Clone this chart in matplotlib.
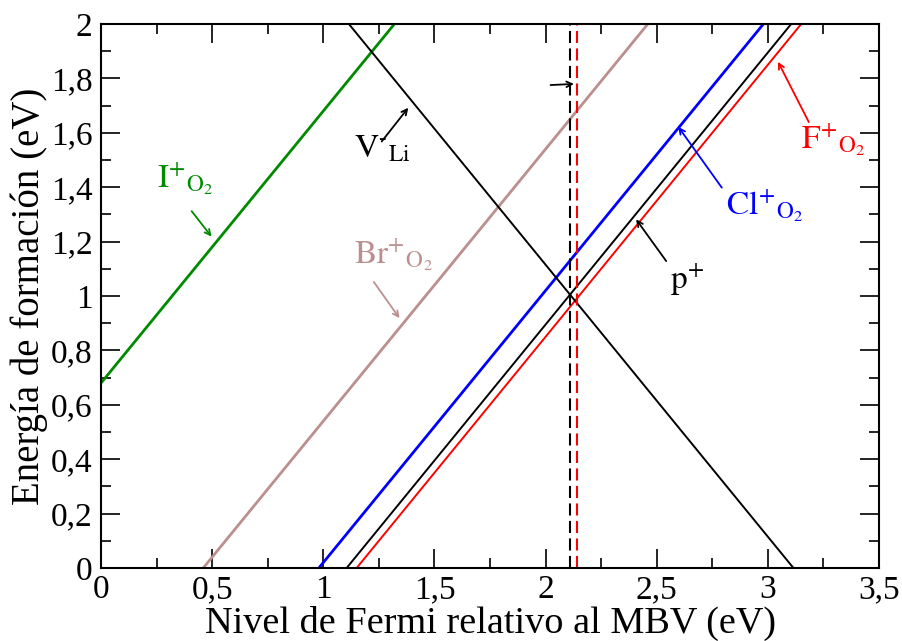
import matplotlib
matplotlib.use('Agg')
import matplotlib.pyplot as plt
from matplotlib.ticker import MultipleLocator, FuncFormatter
import numpy as np

plt.rcParams['font.family'] = 'serif'
plt.rcParams['font.serif'] = ['Liberation Serif', 'DejaVu Serif']
plt.rcParams['mathtext.fontset'] = 'stix'

# Formation energy at E_F = 0 (eV) and charge of each defect
defects = ['I_O2', 'Br_O2', 'Cl_O2', 'p', 'F_O2', 'V_Li']
e0 = [0.68, -0.46, -0.98, -1.105, -1.15, 3.115]
charge = [1, 1, 1, 1, 1, -1]
colors = ['#008a00', '#bc8f8f', '#0000ff', 'black', '#ff0000', 'black']
widths = [2.0, 2.0, 2.0, 1.4, 1.4, 1.4]

# Fermi level pinning positions (dashed lines)
pin_x = [2.112, 2.141]
pin_colors = ['black', '#ff0000']

ef = np.linspace(0, 3.5, 200)

fig = plt.figure(figsize=(9.02, 6.41), dpi=100)
ax = fig.add_axes([0.112, 0.1139, 0.8625, 0.8487])

for name, e, q, c, w in zip(defects, e0, charge, colors, widths):
    ax.plot(ef, e + q * ef, color=c, lw=w)

for x, c in zip(pin_x, pin_colors):
    ax.axvline(x, color=c, lw=1.5, ls=(0, (5.8, 2.6)))

ax.set_xlim(0, 3.5)
ax.set_ylim(0, 2)
ax.xaxis.set_major_locator(MultipleLocator(0.5))
ax.xaxis.set_minor_locator(MultipleLocator(0.25))
ax.yaxis.set_major_locator(MultipleLocator(0.2))
ax.yaxis.set_minor_locator(MultipleLocator(0.1))
fmt = FuncFormatter(lambda v, p: ('%g' % round(v, 2)).replace('.', ','))
ax.xaxis.set_major_formatter(fmt)
ax.yaxis.set_major_formatter(fmt)
ax.tick_params(which='both', direction='in', top=True, right=True, width=1.2)
ax.tick_params(which='major', length=14, labelsize=24)
ax.tick_params(axis='x', which='major', pad=5)
ax.tick_params(axis='y', which='major', pad=6)
ax.tick_params(which='minor', length=7)
for s in ax.spines.values():
    s.set_linewidth(1.5)

ax.set_xlabel('Nivel de Fermi relativo al MBV (eV)', fontsize=27.5, labelpad=0)
ax.set_ylabel('Energía de formación (eV)', fontsize=28, labelpad=2)

# labels with arrows
arr = dict(arrowstyle='->', lw=1.3)
fs = 24
ax.annotate(r'$\mathrm{I}^{+}{}_{\mathrm{O}_2}$', xy=(0.505, 1.21), xytext=(0.25, 1.43),
            color='#008a00', fontsize=fs, ha='left', va='center')
ax.annotate('', xy=(0.505, 1.21), xytext=(0.40, 1.32),
            arrowprops=dict(arr, color='#008a00'))
ax.annotate(r'$\mathrm{V}^{\text{-}}{}_{\mathrm{Li}}$', xy=(0.1, 0.1), xytext=(1.14, 1.54),
            color='black', fontsize=fs, ha='left', va='center')
ax.annotate('', xy=(1.39, 1.70), xytext=(1.255, 1.56),
            arrowprops=dict(arr, color='black'))
ax.annotate(r'$\mathrm{Br}^{+}{}_{\mathrm{O}_2}$', xy=(0.1, 0.1), xytext=(1.14, 1.15),
            color='#bc8f8f', fontsize=fs, ha='left', va='center')
ax.annotate('', xy=(1.35, 0.91), xytext=(1.22, 1.06),
            arrowprops=dict(arr, color='#bc8f8f'))
ax.annotate(r'$\mathrm{Cl}^{+}{}_{\mathrm{O}_2}$', xy=(0.1, 0.1), xytext=(2.81, 1.33),
            color='#0000ff', fontsize=fs, ha='left', va='center')
ax.annotate('', xy=(2.59, 1.63), xytext=(2.80, 1.39),
            arrowprops=dict(arr, color='#0000ff'))
ax.annotate(r'$\mathrm{F}^{+}{}_{\mathrm{O}_2}$', xy=(0.1, 0.1), xytext=(3.15, 1.57),
            color='#ff0000', fontsize=fs, ha='left', va='center')
ax.annotate('', xy=(3.04, 1.87), xytext=(3.19, 1.63),
            arrowprops=dict(arr, color='#ff0000'))
ax.annotate(r'$\mathrm{p}^{+}$', xy=(0.1, 0.1), xytext=(2.56, 1.06),
            color='black', fontsize=fs, ha='left', va='center')
ax.annotate('', xy=(2.40, 1.29), xytext=(2.55, 1.12),
            arrowprops=dict(arr, color='black'))
ax.annotate('', xy=(2.14, 1.78), xytext=(2.01, 1.775),
            arrowprops=dict(arr, color='black'))

fig.savefig('out.png', dpi=100)
